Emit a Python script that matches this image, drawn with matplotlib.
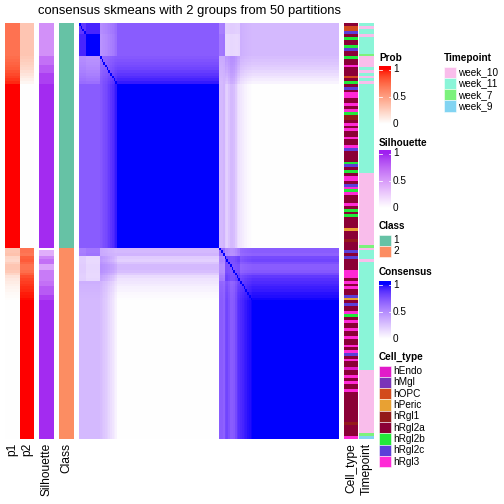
import numpy as np
import matplotlib
matplotlib.use("Agg")
import matplotlib.pyplot as plt
from matplotlib.colors import ListedColormap

plt.rcParams['font.family'] = ['Liberation Sans', 'DejaVu Sans']

# ---- data (per sample, in display order), run-length lists ----
p1_runs = [(0.70, 12),
           (0.72, 1), (0.74, 1), (0.76, 1), (0.78, 1), (0.80, 1),
           (0.83, 1), (0.86, 1), (0.89, 1), (0.92, 1), (0.95, 1),
           (1.00, 59),
           (0.30, 1), (0.30, 1), (0.32, 1), (0.22, 1), (0.20, 1), (0.25, 1),
           (0.30, 1), (0.30, 1), (0.28, 1), (0.22, 1), (0.15, 1), (0.12, 1),
           (0.10, 1), (0.08, 1), (0.06, 1), (0.05, 1), (0.03, 1), (0.02, 1),
           (0.01, 1),
           (0.00, 50)]
# how strongly a sample follows the switching of the first sub-cluster
link_runs = [(0.8, 4), (1.0, 8), (-0.3, 10), (0.0, 59),
             (0.4, 3), (-0.6, 9), (0.0, 7), (0.0, 50)]
silhouette_runs = [(0.55, 12), (0.70, 3), (0.80, 3), (0.90, 4), (0.97, 59),
                   (0.0, 1), (0.40, 2), (0.60, 1), (0.70, 2), (0.45, 2),
                   (0.65, 4), (0.70, 2), (0.80, 3), (0.90, 2),
                   (0.97, 50)]
class_runs = [(1, 81), (2, 69)]

celltype_runs = [
    ("hRgl2a", 1), ("hOPC", 2), ("hRgl2c", 1), ("hRgl2a", 1), ("hRgl2b", 1),
    ("hRgl2a", 2), ("hRgl2b", 1), ("hRgl2c", 1), ("hRgl2a", 2), ("hRgl2b", 1),
    ("hRgl2a", 2), ("hRgl3", 1), ("hRgl2a", 3), ("hOPC", 1), ("hRgl2a", 1),
    ("hRgl2b", 1), ("hRgl2a", 1), ("hRgl2c", 1), ("hRgl2a", 1), ("hRgl3", 2),
    ("hRgl2a", 2), ("hRgl3", 1), ("hRgl2a", 1), ("hRgl3", 1), ("hRgl2b", 1),
    ("hRgl1", 2), ("hRgl2a", 1), ("hRgl3", 1), ("hRgl2a", 1), ("hRgl3", 1),
    ("hRgl2a", 2), ("hRgl3", 1), ("hRgl2a", 2), ("hRgl3", 1), ("hRgl2c", 1),
    ("hRgl2a", 4), ("hRgl2b", 1), ("hRgl2c", 1), ("hRgl2a", 1), ("hRgl2b", 1),
    ("hRgl2a", 1), ("hRgl3", 2), ("hRgl2a", 1), ("hRgl2c", 1), ("hRgl3", 1),
    ("hRgl2b", 1), ("hRgl3", 1), ("hRgl2a", 3), ("hRgl3", 1), ("hRgl2a", 1),
    ("hRgl2b", 1), ("hRgl2a", 1), ("hRgl2b", 1), ("hRgl2a", 4), ("hPeric", 1),
    ("hRgl2a", 3), ("hRgl1", 1), ("hRgl2a", 2),
    # group 2
    ("hRgl2a", 1), ("hRgl2c", 1), ("hRgl2a", 1), ("hRgl2c", 1), ("hRgl2a", 4),
    ("hRgl3", 3), ("hRgl2a", 1), ("hRgl3", 1), ("hRgl2a", 1), ("hRgl3", 1),
    ("hRgl2a", 2), ("hRgl2c", 1), ("hPeric", 1), ("hRgl2a", 1), ("hRgl2c", 1),
    ("hRgl2a", 2), ("hRgl3", 1), ("hRgl2b", 1), ("hRgl2a", 1), ("hRgl3", 1),
    ("hRgl2a", 2), ("hRgl3", 1), ("hRgl2a", 2), ("hRgl3", 1), ("hRgl2a", 2),
    ("hRgl3", 1), ("hRgl2a", 1), ("hRgl3", 1), ("hRgl2c", 1), ("hRgl2a", 1),
    ("hRgl3", 1), ("hRgl2a", 2), ("hEndo", 1), ("hRgl2a", 2), ("hRgl3", 1),
    ("hRgl2a", 1), ("hRgl3", 1), ("hRgl2a", 2), ("hRgl3", 1), ("hRgl2a", 11),
    ("hRgl1", 1), ("hRgl2a", 4), ("hRgl3", 1)]

timepoint_runs = [
    ("week_11", 1), ("week_10", 1), ("week_11", 2), ("week_10", 1),
    ("week_11", 6), ("week_7", 1), ("week_10", 4), ("week_11", 1),
    ("week_10", 1), ("week_11", 1), ("week_10", 1), ("week_11", 1),
    ("week_10", 1), ("week_11", 32), ("week_10", 26), ("week_7", 1),
    # group 2
    ("week_10", 1), ("week_11", 3), ("week_10", 1), ("week_11", 39),
    ("week_10", 23), ("week_7", 1), ("week_9", 1)]

celltype_levels = ["hEndo", "hMgl", "hOPC", "hPeric", "hRgl1", "hRgl2a",
                   "hRgl2b", "hRgl2c", "hRgl3"]
celltype_colors = ["#E11BC9", "#7A33B8", "#D24B1C", "#E8A133", "#931A1A",
                   "#8B0036", "#22E83A", "#5B3FD8", "#FF2AD6"]
timepoint_levels = ["week_10", "week_11", "week_7", "week_9"]
timepoint_colors = ["#F9BDEB", "#8AF5D8", "#7CF27C", "#82D4F2"]
class_colors = {1: "#66C2A5", 2: "#FC8D62"}

title = "consensus skmeans with 2 groups from 50 partitions"


def expand(runs):
    return np.array([v for v, n in runs for _ in range(n)])


p1 = expand(p1_runs).astype(float)
p2 = 1 - p1
link = expand(link_runs).astype(float)
sil = expand(silhouette_runs).astype(float)
cls = expand(class_runs)
ctype = expand(celltype_runs)
tpoint = expand(timepoint_runs)

# consensus: agreement of class memberships, plus shared switching
var = np.sqrt(p1 * (1 - p1))
cons = np.outer(p1, p1) + np.outer(1 - p1, 1 - p1) + 2 * np.outer(link * var, link * var)
cons = np.clip(cons, 0, 1)
np.fill_diagonal(cons, 1)


# ---- colour ramps interpolated in LAB, like colorRamp2 ----
def hex_rgb(h):
    h = h.lstrip("#")
    return np.array([int(h[i:i + 2], 16) / 255 for i in (0, 2, 4)])


M = np.array([[0.4124564, 0.3575761, 0.1804375],
              [0.2126729, 0.7151522, 0.0721750],
              [0.0193339, 0.1191920, 0.9503041]])
WHITE = np.array([0.95047, 1.0, 1.08883])


def rgb2lab(c):
    lin = np.where(c <= 0.04045, c / 12.92, ((c + 0.055) / 1.055) ** 2.4)
    xyz = M @ lin / WHITE
    d = 6 / 29
    f = np.where(xyz > d ** 3, np.cbrt(xyz), xyz / (3 * d * d) + 4 / 29)
    return np.array([116 * f[1] - 16, 500 * (f[0] - f[1]), 200 * (f[1] - f[2])])


def lab2rgb(lab):
    L, a, b = lab
    fy = (L + 16) / 116
    f = np.array([fy + a / 500, fy, fy - b / 200])
    d = 6 / 29
    xyz = np.where(f > d, f ** 3, 3 * d * d * (f - 4 / 29)) * WHITE
    lin = np.linalg.solve(M, xyz)
    lin = np.clip(lin, 0, 1)
    c = np.where(lin <= 0.0031308, 12.92 * lin, 1.055 * lin ** (1 / 2.4) - 0.055)
    return np.clip(c, 0, 1)


def ramp(c1, n=256):
    l0, l1 = rgb2lab(np.ones(3)), rgb2lab(hex_rgb(c1))
    return ListedColormap([lab2rgb(l0 + (l1 - l0) * t) for t in np.linspace(0, 1, n)])


cm_prob = ramp("#FF0000")
cm_sil = ramp("#A020F0")
cm_cons = ramp("#0000FF")

# ---- layout in pixels ----
W = H = 504
fig = plt.figure(figsize=(7, 7), dpi=72)


def px_axes(x0, y0, x1, y1):
    ax = fig.add_axes([x0 / W, 1 - y1 / H, (x1 - x0) / W, (y1 - y0) / H])
    ax.set_axis_off()
    return ax


top, bot = 23, 439


def strip(x0, x1, vals, cmap):
    ax = px_axes(x0, top, x1, bot)
    ax.imshow(vals.reshape(-1, 1), cmap=cmap, vmin=0, vmax=1,
              aspect="auto", interpolation="nearest")


def cat_strip(x0, x1, vals, levels, colors):
    ax = px_axes(x0, top, x1, bot)
    lut = {lv: hex_rgb(c) for lv, c in zip(levels, colors)}
    img = np.array([lut[v] for v in vals]).reshape(-1, 1, 3)
    ax.imshow(img, aspect="auto", interpolation="nearest")


strip(5, 20, p1, cm_prob)
strip(20, 34, p2, cm_prob)
strip(39, 54, sil, cm_sil)
cat_strip(59, 74, cls, [1, 2], [class_colors[1], class_colors[2]])

ax = px_axes(79, top, 339, bot)
ax.imshow(cons, cmap=cm_cons, vmin=0, vmax=1, aspect="auto", interpolation="nearest")

cat_strip(344, 358, ctype, celltype_levels, celltype_colors)
cat_strip(359, 374, tpoint, timepoint_levels, timepoint_colors)

# ---- texts and legends on an overlay in pixel coordinates ----
ov = fig.add_axes([0, 0, 1, 1])
ov.set_xlim(0, W)
ov.set_ylim(H, 0)
ov.set_axis_off()

ov.text(190, 11, title, ha="center", va="center", fontsize=13)

for x, lab in [(12.5, "p1"), (27, "p2"), (46.5, "Silhouette"), (66.5, "Class"),
               (351, "Cell_type"), (366.5, "Timepoint")]:
    ov.text(x, 443, lab, rotation=90, ha="center", va="top", fontsize=12)


def grad_legend(ttl, ty, y1, y0, cmap):
    # y1: pixel of value 1, y0: pixel of value 0
    ov.text(379, ty, ttl, fontsize=10, fontweight="bold", va="center", ha="left")
    yt = y1 - 3
    vals = np.clip((y0 - np.linspace(yt, y0, 100)) / (y0 - y1), 0, 1)
    ov.imshow(vals.reshape(-1, 1), cmap=cmap, vmin=0, vmax=1, aspect="auto",
              extent=(379, 391, y0, yt), interpolation="bilinear", zorder=1)
    for v, s in [(1, "1"), (0.5, "0.5"), (0, "0")]:
        yy = y0 - v * (y0 - y1)
        ov.text(393, yy, s, fontsize=10, va="center", ha="left")
        if v > 0:
            ov.plot([379, 381.5], [yy, yy], color="white", lw=0.8, zorder=2)
            ov.plot([388.5, 391], [yy, yy], color="white", lw=0.8, zorder=2)


grad_legend("Prob", 58, 69.5, 124, cm_prob)
grad_legend("Silhouette", 143, 153.5, 208, cm_sil)
grad_legend("Consensus", 272, 284.5, 339, cm_cons)


def box_legend(x, ttl, ty, y_first, levels, colors, step=11.3):
    ov.text(x, ty, ttl, fontsize=10, fontweight="bold", va="center", ha="left")
    for i, (lv, c) in enumerate(zip(levels, colors)):
        yy = y_first + i * step
        ov.add_patch(plt.Rectangle((x, yy), 12, step, facecolor=c,
                                   edgecolor="white", lw=0.5))
        ov.text(x + 14.5, yy + step / 2, str(lv), fontsize=10, va="center", ha="left")


box_legend(379, "Class", 226, 234.5, [1, 2], [class_colors[1], class_colors[2]])
box_legend(379, "Cell_type", 357, 365.5, celltype_levels, celltype_colors)
box_legend(444, "Timepoint", 58, 66.5, timepoint_levels, timepoint_colors)

fig.savefig("out.png", dpi=72)
